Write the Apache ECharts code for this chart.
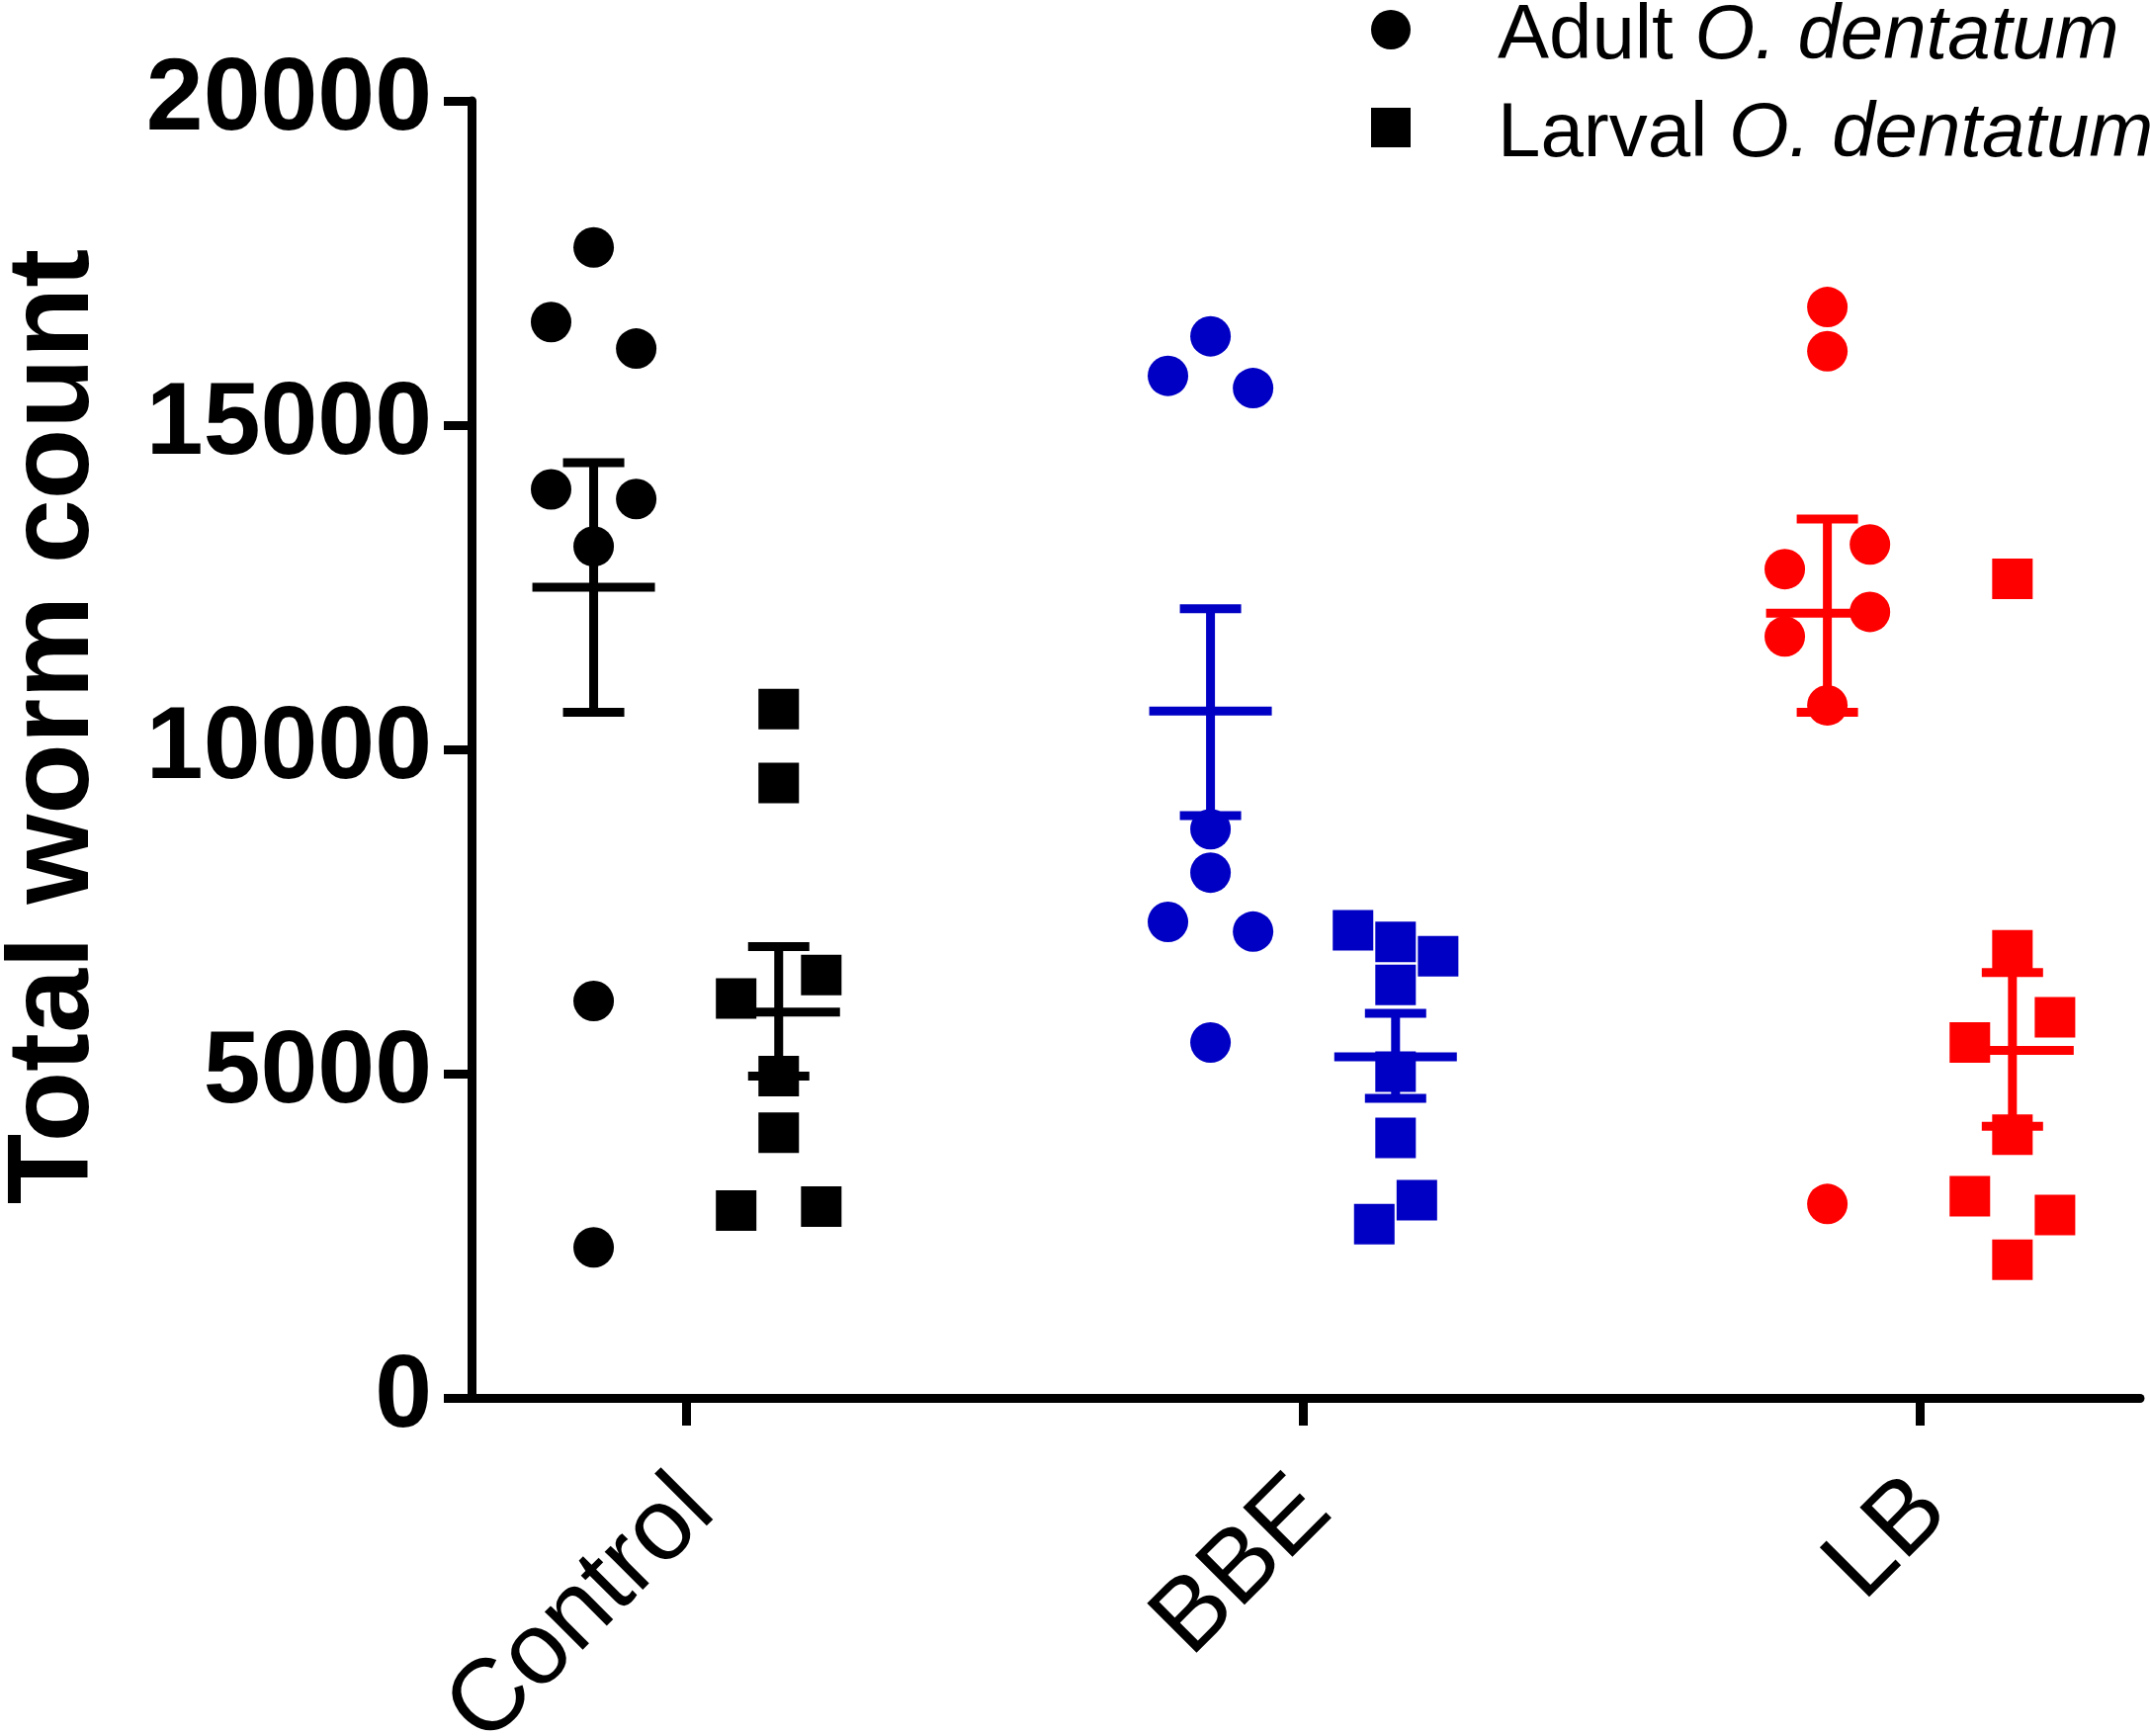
<!DOCTYPE html>
<html>
<head>
<meta charset="utf-8">
<script src="https://cdn.jsdelivr.net/npm/echarts@6/dist/echarts.min.js"></script>
<style>
html, body { margin: 0; padding: 0; background: #fff; }
#chart { width: 2175px; height: 1756px; }
</style>
</head>
<body>
<div id="chart"></div>
<script>
var groups = ['Control', 'BBE', 'LB'];
var groupColors = ['#000000', '#0000c4', '#ff0000'];
var seriesNames = ['Adult O. dentatum', 'Larval O. dentatum'];
var yTicks = [0, 5000, 10000, 15000, 20000];

// worm count per animal
var adultControl = [17740, 16590, 16180, 14010, 13860, 13130, 6120, 2320];
var adultBBE = [16370, 15760, 15570, 8770, 8100, 7340, 7190, 5480];
var adultLB = [16820, 16140, 13160, 12780, 12120, 11740, 10680, 2990];
var larvalControl = [10620, 9480, 6160, 6520, 4960, 4090, 2890, 2950];
var larvalBBE = [7210, 7030, 6810, 6370, 5030, 4010, 3050, 2680];
var larvalLB = [12630, 6900, 5870, 5480, 4060, 3110, 2820, 2130];

// lane of each point in the dot column (-1 left, 0 middle, 1 right)
var adultLanes = [[0, -1, 1, -1, 1, 0, 0, 0], [0, -1, 1, 0, 0, -1, 1, 0], [0, 0, 1, -1, 1, -1, 0, 0]];
var larvalLanes = [[0, 0, -1, 1, 0, 0, -1, 1], [-1, 0, 1, 0, 0, 0, 0.5, -0.5], [0, 0, 1, -1, 0, -1, 1, 0]];

// mean +/- SEM
var adultMean = [12500, 10590, 12100];
var adultLow = [10570, 8980, 10570];
var adultHigh = [14420, 12170, 13550];
var larvalMean = [5950, 5260, 5360];
var larvalLow = [4960, 4620, 4190];
var larvalHigh = [6960, 5930, 6560];

var FONT = '"Liberation Sans", Arial, sans-serif';
var SIDE = 0.15;     // column offset from the group tick
var LANE = 0.069;    // jitter step inside a column
var LABEL_NUDGE = 0.019;  // rotated labels sit a little right of their tick

function dots(lists, lanes, side) {
    var out = [];
    for (var g = 0; g < lists.length; g++) {
        for (var i = 0; i < lists[g].length; i++) {
            out.push({
                value: [g + side + lanes[g][i] * LANE, lists[g][i]],
                itemStyle: {color: groupColors[g]}
            });
        }
    }
    return out;
}

function bars(mean, low, high, side) {
    var out = [];
    for (var g = 0; g < mean.length; g++) {
        out.push([g + side, mean[g], low[g], high[g], g]);
    }
    return out;
}

function renderBar(params, api) {
    var x = api.value(0);
    var m = api.coord([x, api.value(1)]);
    var lo = api.coord([x, api.value(2)]);
    var hi = api.coord([x, api.value(3)]);
    var color = groupColors[api.value(4)];
    var st = {stroke: color, lineWidth: 9};
    return {
        type: 'group',
        children: [
            {type: 'line', shape: {x1: m[0], y1: hi[1], x2: m[0], y2: lo[1]}, style: st},
            {type: 'line', shape: {x1: m[0] - 62, y1: m[1], x2: m[0] + 62, y2: m[1]}, style: st},
            {type: 'line', shape: {x1: m[0] - 31, y1: hi[1], x2: m[0] + 31, y2: hi[1]}, style: st},
            {type: 'line', shape: {x1: m[0] - 31, y1: lo[1], x2: m[0] + 31, y2: lo[1]}, style: st}
        ]
    };
}

var tickPos = groups.map(function (g, i) { return i; });
var labelPos = groups.map(function (g, i) { return i + LABEL_NUDGE; });

var chart = echarts.init(document.getElementById('chart'));

var option = {
    backgroundColor: '#ffffff',
    animation: false,
    grid: {
        left: 477,
        right: 10,
        top: 102,
        bottom: 342,
        containLabel: false,
        outerBoundsMode: 'none'
    },
    legend: {
        orient: 'vertical',
        left: 1382,
        top: -21,
        itemWidth: 40,
        itemHeight: 40,
        itemGap: 7,
        data: [
            {name: seriesNames[0], icon: 'circle'},
            {name: seriesNames[1], icon: 'rect'}
        ],
        formatter: function (name) {
            var i = name.indexOf(' ');
            return '{n|' + name.slice(0, i + 1) + '}{i|' + name.slice(i + 1) + '}';
        },
        textStyle: {
            color: '#000',
            rich: {
                n: {fontFamily: FONT, fontSize: 78, color: '#000', lineHeight: 40, padding: [14, 0, 0, 83]},
                i: {fontFamily: FONT, fontSize: 78, color: '#000', lineHeight: 40, padding: [14, 0, 0, 0], fontStyle: 'italic'}
            }
        }
    },
    xAxis: {
        type: 'value',
        min: -0.348,
        max: 2.357,
        splitLine: {show: false},
        axisLine: {show: true, onZero: false, lineStyle: {color: '#000', width: 9}},
        axisTick: {show: true, customValues: tickPos, length: 28, lineStyle: {color: '#000', width: 9}},
        axisLabel: {
            customValues: labelPos,
            rotate: 45,
            margin: 98,
            padding: [31, 0, 0, 0],
            fontFamily: FONT,
            fontSize: 103,
            color: '#000',
            formatter: function (v) { return groups[Math.round(v)]; }
        }
    },
    yAxis: {
        type: 'value',
        min: yTicks[0],
        max: yTicks[yTicks.length - 1],
        interval: yTicks[1] - yTicks[0],
        splitLine: {show: false},
        axisLine: {show: true, onZero: false, lineStyle: {color: '#000', width: 9}},
        axisTick: {show: true, length: 28, lineStyle: {color: '#000', width: 9}},
        axisLabel: {
            margin: 40,
            fontFamily: FONT,
            fontSize: 104,
            fontWeight: 'bold',
            color: '#000',
            formatter: function (v) { return String(v); }
        },
        name: 'Total worm count',
        nameLocation: 'middle',
        nameGap: 362,
        nameTextStyle: {
            fontFamily: FONT,
            fontSize: 117,
            fontWeight: 'bold',
            color: '#000',
            padding: [0, 0, 0, 46]
        }
    },
    series: [
        {
            name: seriesNames[0],
            type: 'scatter',
            symbol: 'circle',
            symbolSize: 41,
            itemStyle: {color: '#000', opacity: 1},
            data: dots([adultControl, adultBBE, adultLB], adultLanes, -SIDE)
        },
        {
            name: seriesNames[1],
            type: 'scatter',
            symbol: 'rect',
            symbolSize: 41,
            itemStyle: {color: '#000', opacity: 1},
            data: dots([larvalControl, larvalBBE, larvalLB], larvalLanes, SIDE)
        },
        {
            type: 'custom',
            renderItem: renderBar,
            encode: {x: 0, y: [1, 2, 3]},
            z: 3,
            data: bars(adultMean, adultLow, adultHigh, -SIDE)
        },
        {
            type: 'custom',
            renderItem: renderBar,
            encode: {x: 0, y: [1, 2, 3]},
            z: 3,
            data: bars(larvalMean, larvalLow, larvalHigh, SIDE)
        }
    ]
};

chart.setOption(option);
</script>
</body>
</html>
